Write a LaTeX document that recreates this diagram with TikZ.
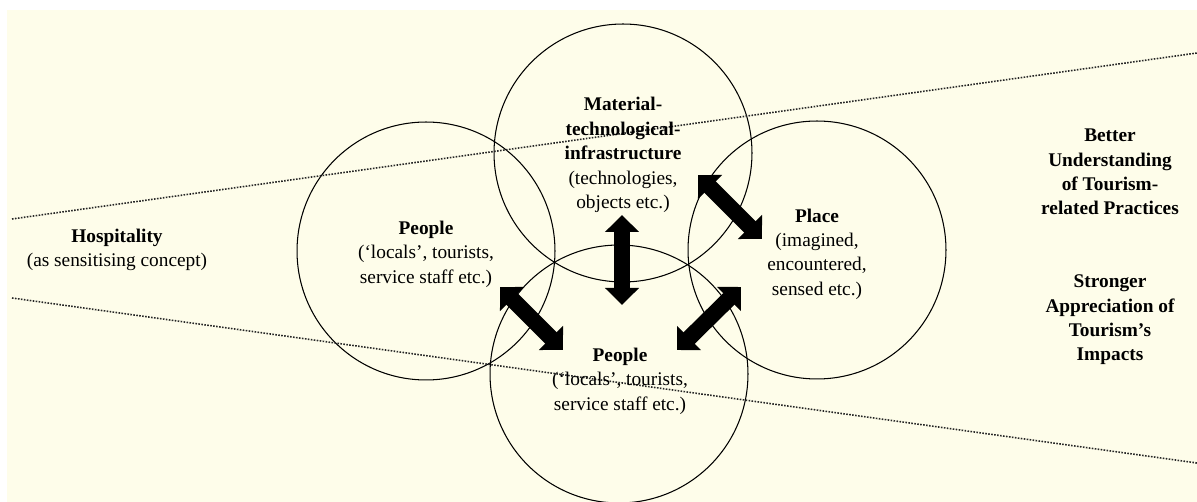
\documentclass[tikz,border=0pt]{standalone}
\usepackage{fontspec}
\setmainfont{Liberation Serif}
\usetikzlibrary{arrows.meta}
\definecolor{creme}{RGB}{254,253,234}

\tikzset{
  anel/.style={draw, circle, line width=0.6pt, minimum size=5.16cm, inner sep=0pt},
  rotulo/.style={align=center, font=\fontsize{11}{13.9}\selectfont},
  seta/.style={{Triangle[width=0.66cm,length=0.34cm]}-{Triangle[width=0.66cm,length=0.34cm]}, line width=0.32cm},
  limite/.style={line width=0.9pt, dash pattern=on 0.9pt off 0.8pt, black!85},
}

\begin{document}
\begin{tikzpicture}[x=0.02cm, y=-0.02cm]

    % Moldura
    \useasboundingbox (0,0) rectangle (1197,502);
    \fill[creme] (7,10) rectangle (1197,502);

    % Círculos
    \node[anel] (pessoasE) at (426,251) {};
    \node[anel] (material) at (623,153) {};
    \node[anel] (lugar) at (817,250) {};
    \node[anel] (pessoasB) at (619,374) {};

    % Limites pontilhados
    \coordinate (supE) at (12,219);
    \coordinate (supD) at (1197,53);
    \coordinate (infE) at (12,298);
    \coordinate (infD) at (1197,463);
    \draw[limite] (supE) -- (supD);
    \draw[limite] (infE) -- (infD);

    % Textos dos círculos
    \node[rotulo] (txtE) at (426,254) {\textbf{People}\\(‘locals’, tourists,\\service staff etc.)};
    \node[rotulo] (txtM) at (623,155) {\textbf{Material-}\\\textbf{technological-}\\\textbf{infrastructure}\\(technologies,\\objects etc.)};
    \node[rotulo] (txtL) at (817,254) {\textbf{Place}\\(imagined,\\encountered,\\sensed etc.)};
    \node[rotulo] (txtB) at (620,381) {\textbf{People}\\(‘locals’, tourists,\\service staff etc.)};

    % Textos laterais
    \node[rotulo] (hosp) at (117,250) {\textbf{Hospitality}\\(as sensitising concept)};
    \node[rotulo, font=\bfseries\fontsize{11}{13.9}\selectfont] (melhor) at (1110,172) {Better\\Understanding\\of Tourism-\\related Practices};
    \node[rotulo, font=\bfseries\fontsize{11}{13.9}\selectfont] (forte) at (1110,320) {Stronger\\Appreciation of\\Tourism’s\\Impacts};

    % Setas
    \coordinate (v1) at (622,215);
    \coordinate (v2) at (622,305);
    \coordinate (d1) at (698,175);
    \coordinate (d2) at (762,239);
    \coordinate (e1) at (500,287);
    \coordinate (e2) at (563,350);
    \coordinate (r1) at (741,287);
    \coordinate (r2) at (677,350);
    \draw[seta] (v1) -- (v2);
    \draw[seta] (d1) -- (d2);
    \draw[seta] (e1) -- (e2);
    \draw[seta] (r1) -- (r2);

\end{tikzpicture}
\end{document}
